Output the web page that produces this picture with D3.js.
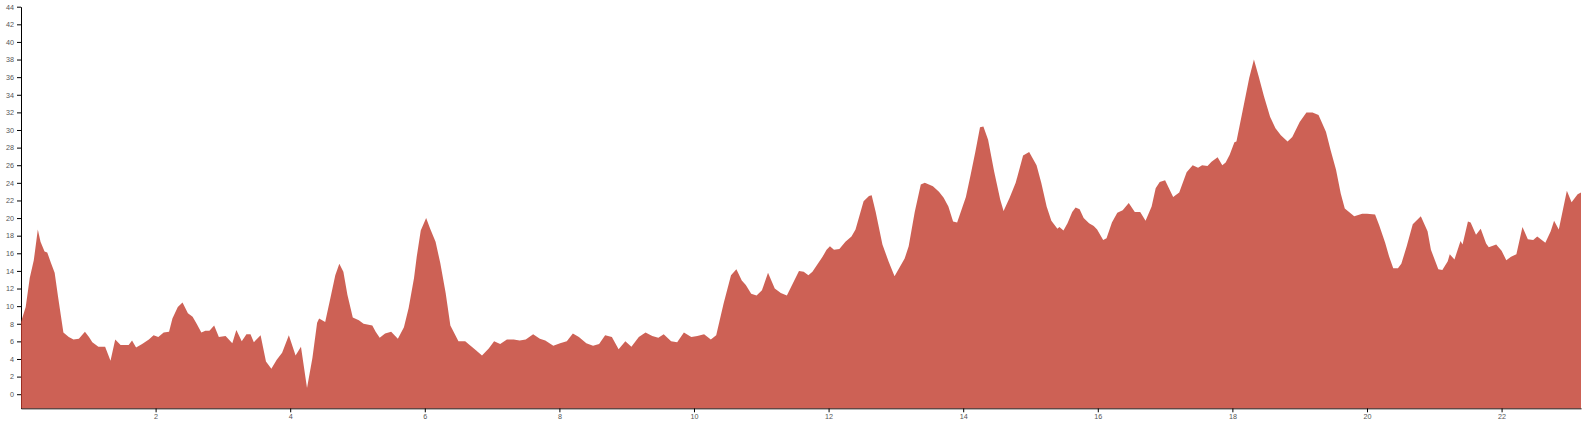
<!DOCTYPE html>
<html>
<head>
<meta charset="utf-8">
<script src="https://cdn.jsdelivr.net/npm/d3@7"></script>
<style>
  html, body { margin: 0; padding: 0; background: #fff; }
  svg { display: block; }
</style>
</head>
<body>
<svg id="chart" width="1590" height="427"></svg>
<script>
const hours = [0.00,0.07,0.13,0.19,0.25,0.29,0.35,0.39,0.44,0.50,0.55,0.63,0.71,0.78,0.86,0.95,1.01,1.06,1.15,1.25,1.33,1.40,1.48,1.60,1.65,1.71,1.80,1.90,1.97,2.04,2.12,2.20,2.25,2.33,2.40,2.48,2.55,2.61,2.68,2.74,2.80,2.87,2.94,3.04,3.14,3.20,3.28,3.35,3.41,3.46,3.56,3.64,3.72,3.80,3.88,3.98,4.08,4.16,4.25,4.33,4.40,4.43,4.52,4.60,4.67,4.73,4.79,4.85,4.93,5.02,5.09,5.22,5.27,5.33,5.41,5.50,5.60,5.69,5.76,5.84,5.88,5.94,6.02,6.08,6.16,6.23,6.31,6.38,6.50,6.60,6.68,6.76,6.85,6.95,7.03,7.12,7.22,7.32,7.41,7.50,7.61,7.71,7.79,7.91,8.01,8.11,8.20,8.29,8.40,8.50,8.59,8.68,8.78,8.88,8.98,9.07,9.18,9.28,9.38,9.47,9.55,9.66,9.75,9.85,9.96,10.05,10.15,10.25,10.33,10.44,10.55,10.63,10.71,10.77,10.85,10.93,11.01,11.10,11.20,11.29,11.38,11.47,11.56,11.63,11.70,11.76,11.83,11.91,11.97,12.02,12.08,12.16,12.25,12.34,12.40,12.52,12.60,12.64,12.70,12.80,12.89,12.98,13.13,13.19,13.28,13.37,13.43,13.55,13.64,13.71,13.78,13.85,13.91,14.04,14.11,14.18,14.25,14.30,14.37,14.46,14.55,14.60,14.69,14.78,14.89,14.98,15.09,15.16,15.24,15.31,15.40,15.43,15.49,15.55,15.62,15.67,15.73,15.79,15.87,15.94,15.99,16.08,16.13,16.21,16.29,16.37,16.46,16.55,16.63,16.71,16.80,16.86,16.92,17.00,17.12,17.21,17.32,17.41,17.49,17.55,17.63,17.69,17.78,17.85,17.90,17.96,18.03,18.06,18.15,18.25,18.32,18.39,18.47,18.56,18.64,18.72,18.82,18.89,19.00,19.10,19.19,19.28,19.39,19.46,19.54,19.61,19.67,19.81,19.93,20.00,20.12,20.18,20.27,20.33,20.39,20.46,20.51,20.59,20.68,20.80,20.90,20.95,21.06,21.12,21.20,21.23,21.30,21.39,21.42,21.50,21.54,21.62,21.69,21.77,21.81,21.92,22.00,22.07,22.14,22.22,22.31,22.39,22.47,22.53,22.65,22.73,22.78,22.85,22.97,23.04,23.13,23.18];

const values = [8.2,9.9,13.2,15.2,18.7,17.3,16.2,16.1,15.0,13.8,11.1,7.0,6.5,6.2,6.3,7.1,6.5,5.9,5.4,5.4,3.8,6.2,5.6,5.6,6.1,5.3,5.7,6.2,6.7,6.5,7.0,7.1,8.6,9.9,10.4,9.2,8.8,8.0,7.0,7.2,7.2,7.8,6.5,6.6,5.8,7.3,6.0,6.8,6.8,5.9,6.7,3.7,2.9,3.9,4.7,6.7,4.4,5.4,0.7,4.1,8.1,8.6,8.2,11.0,13.5,14.8,13.9,11.3,8.7,8.4,8.0,7.8,7.1,6.4,6.9,7.1,6.3,7.6,9.8,13.2,15.6,18.6,20.0,18.8,17.3,14.9,11.5,7.8,6.0,6.0,5.5,5.0,4.4,5.2,6.0,5.7,6.2,6.2,6.1,6.2,6.8,6.3,6.1,5.5,5.8,6.0,6.9,6.5,5.8,5.5,5.7,6.7,6.5,5.1,6.0,5.4,6.5,7.0,6.6,6.4,6.8,6.0,5.9,7.0,6.5,6.6,6.8,6.2,6.7,10.3,13.5,14.2,12.9,12.4,11.4,11.2,11.8,13.8,12.0,11.5,11.2,12.6,14.0,13.9,13.5,13.9,14.7,15.6,16.4,16.8,16.4,16.5,17.3,17.9,18.7,21.9,22.5,22.6,20.7,17.0,15.1,13.4,15.4,16.8,20.7,23.8,24.0,23.6,23.0,22.3,21.3,19.6,19.5,22.4,24.9,27.5,30.3,30.4,28.9,25.3,22.1,20.8,22.3,24.0,27.1,27.5,26.0,24.0,21.3,19.7,18.8,19.0,18.6,19.4,20.7,21.2,21.0,20.0,19.4,19.1,18.7,17.5,17.7,19.5,20.6,20.9,21.7,20.7,20.7,19.7,21.3,23.4,24.1,24.3,22.4,22.9,25.2,26.0,25.7,26.0,25.9,26.4,26.9,26.0,26.3,27.2,28.6,28.7,32.1,35.9,38.0,36.1,33.8,31.5,30.2,29.4,28.7,29.2,30.9,32.0,32.0,31.7,29.8,27.7,25.5,22.8,21.1,20.2,20.5,20.5,20.4,19.2,17.2,15.6,14.3,14.3,14.8,16.8,19.3,20.2,18.5,16.4,14.2,14.1,15.1,15.9,15.3,17.4,17.0,19.6,19.5,18.1,18.8,17.1,16.7,17.0,16.3,15.2,15.6,15.9,19.0,17.6,17.5,17.9,17.2,18.5,19.7,18.7,23.1,21.8,22.7,22.9];

const xTicks = [2,4,6,8,10,12,14,16,18,20,22];
const yTicks = [0,2,4,6,8,10,12,14,16,18,20,22,24,26,28,30,32,34,36,38,40,42,44];

const svg = d3.select("#chart");
const mLeft = 21, mRight = 1581, mTop = 6.7, mBottom = 408.3;

const x = d3.scaleLinear().domain([0, 23.18]).range([mLeft, mRight]);
const y = d3.scaleLinear().domain([-1.6, 44]).range([mBottom, mTop]);

const data = hours.map((h, i) => ({h, v: values[i]}));

const fontStyle = g => g.selectAll("text")
  .attr("font-family", "Arial, 'Liberation Sans', sans-serif")
  .attr("font-size", "7.2px")
  .attr("fill", "#555");

svg.append("g")
  .attr("transform", `translate(${mLeft},0)`)
  .call(d3.axisLeft(y).tickValues(yTicks).tickSize(4).tickSizeOuter(0).tickPadding(3))
  .call(fontStyle);

svg.append("g")
  .attr("transform", `translate(0,${mBottom})`)
  .call(d3.axisBottom(x).tickValues(xTicks).tickSize(4).tickSizeOuter(0).tickPadding(2))
  .call(fontStyle);

const area = d3.area()
  .x(d => x(d.h))
  .y0(y(-1.6))
  .y1(d => y(d.v));

svg.append("path")
  .datum(data)
  .attr("d", area)
  .attr("fill", "#c0392b")
  .attr("fill-opacity", 0.8);
</script>
</body>
</html>
